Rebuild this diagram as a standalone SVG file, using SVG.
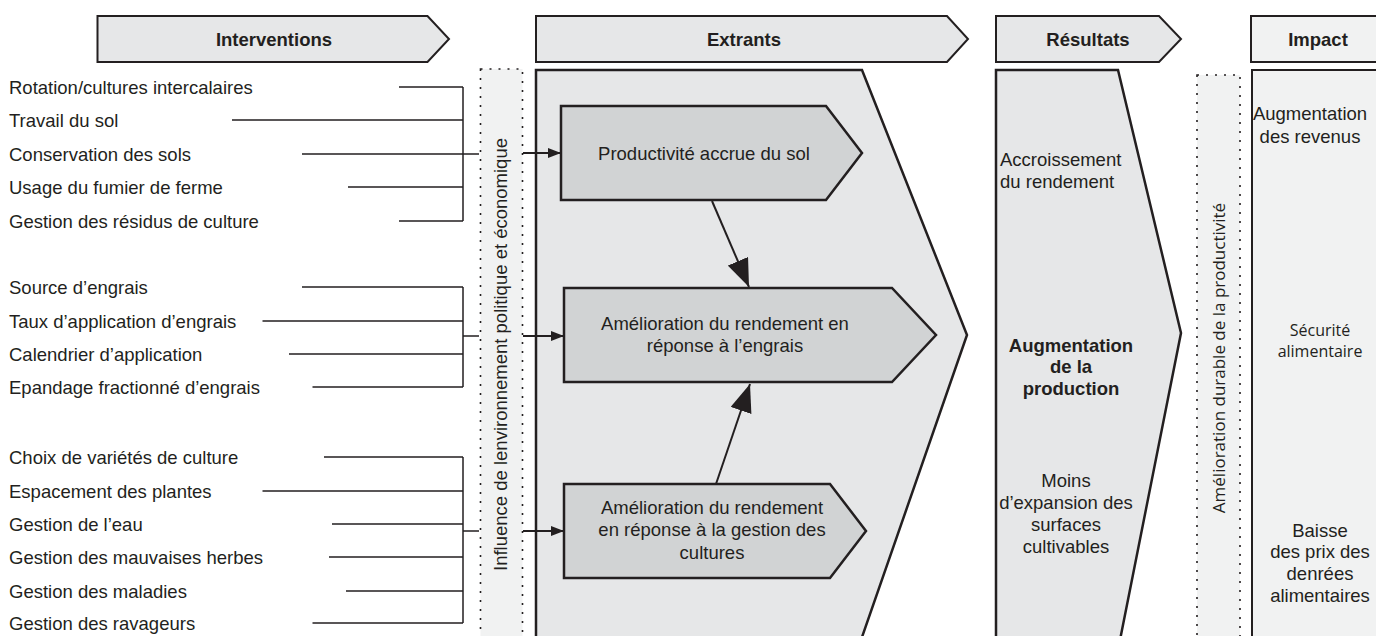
<svg xmlns="http://www.w3.org/2000/svg" width="1376" height="636" viewBox="0 0 1376 636">
<style>
.t{font-family:"Liberation Sans",Arial,sans-serif;font-size:18.5px;fill:#231f20}
.c{text-anchor:middle}
.b{font-weight:bold}
.m{font-family:"Open Sans","Noto Sans",sans-serif;font-size:16px;fill:#231f20}
.m2{font-family:"Open Sans","Noto Sans",sans-serif;font-size:17px;fill:#231f20}
.hdr{fill:#e6e7e8;stroke:#231f20;stroke-width:2}
.hdrl{fill:#f1f2f2;stroke:#231f20;stroke-width:2}
.ln{stroke:#231f20;stroke-width:1.5;fill:none}
.dot{fill:#f1f2f2;stroke:#231f20;stroke-width:1.6;stroke-dasharray:2 7}
.big{fill:#e6e7e8;stroke:#231f20;stroke-width:2.5}
.light{fill:#f1f2f2;stroke:#231f20;stroke-width:2}
.box{fill:#d1d3d4;stroke:#231f20;stroke-width:2.5}
.arr{stroke:#231f20;stroke-width:2;fill:none}
</style>
<defs>
<marker id="ah" markerUnits="userSpaceOnUse" markerWidth="14" markerHeight="10" refX="13" refY="5" orient="auto"><path d="M0,0 L13,5 L0,10 Z" fill="#231f20"/></marker>
<marker id="AH" markerUnits="userSpaceOnUse" markerWidth="29" markerHeight="22" refX="28" refY="11" orient="auto"><path d="M0,0 L28,11 L0,22 Z" fill="#231f20"/></marker>
</defs>

<g id="headers">
<g id="h-interventions"><polygon class="hdr" points="97.5,16 427.5,16 449,39 427.5,62 97.5,62"/><text class="t b c" x="274" y="45.5">Interventions</text></g>
<g id="h-extrants"><polygon class="hdr" points="536,16 947,16 968,39 947,62 536,62"/><text class="t b c" x="744" y="45.5">Extrants</text></g>
<g id="h-resultats"><polygon class="hdr" points="996,16 1159,16 1181,39 1159,62 996,62"/><text class="t b c" x="1088" y="45.5">Résultats</text></g>
<g id="h-impact"><rect class="hdrl" x="1251" y="16" width="140" height="46"/><text class="t b c" x="1318" y="45.5">Impact</text></g>
</g>

<g id="influence"><rect class="dot" x="480.5" y="69" width="42" height="580"/><text class="t c" transform="translate(507,354.5) rotate(-90)">Influence de lenvironnement politique et économique</text></g>

<g id="extrants-body"><polygon class="big" points="536,70 862,70 967,335 861,640 536,640"/></g>

<g id="resultats-body"><polygon class="big" points="996,70 1118,70 1181,333 1120,640 996,640"/>
<text class="t" x="1000" y="165.5">Accroissement</text>
<text class="t" x="1000" y="188">du rendement</text>
<text class="t b c" x="1071" y="351.5">Augmentation</text>
<text class="t b c" x="1071" y="373">de la</text>
<text class="t b c" x="1071" y="395">production</text>
<text class="t c" x="1066" y="486.5">Moins</text>
<text class="t c" x="1066" y="509">d’expansion des</text>
<text class="t c" x="1066" y="530.5">surfaces</text>
<text class="t c" x="1066" y="552.5">cultivables</text>
</g>

<g id="durable"><rect class="dot" x="1197" y="75" width="43" height="570"/><text class="m2 c" transform="translate(1225,358) rotate(-90)">Amélioration durable de la productivité</text></g>

<g id="impact-body"><rect class="light" x="1252" y="70" width="140" height="580"/>
<text class="t c" x="1310" y="119.5">Augmentation</text>
<text class="t c" x="1310" y="142.5">des revenus</text>
<text class="m c" x="1320" y="335.5">Sécurité</text>
<text class="m c" x="1320" y="357">alimentaire</text>
<text class="t c" x="1320" y="536.5">Baisse</text>
<text class="t c" x="1320" y="558">des prix des</text>
<text class="t c" x="1320" y="580">denrées</text>
<text class="t c" x="1320" y="602">alimentaires</text>
</g>

<g id="box-sol"><polygon class="box" points="561,106 826,106 862,153 826,200 561,200"/><text class="t c" x="704" y="159.5">Productivité accrue du sol</text></g>
<g id="box-engrais"><polygon class="box" points="564,288 892,288 936,335 892,382 564,382"/><text class="t c" x="725" y="329.5">Amélioration du rendement en</text><text class="t c" x="725" y="351.5">réponse à l’engrais</text></g>
<g id="box-gestion"><polygon class="box" points="564,484 830,484 866,531 830,578 564,578"/><text class="t c" x="712" y="513.5">Amélioration du rendement</text><text class="t c" x="712" y="536">en réponse à la gestion des</text><text class="t c" x="712" y="558.5">cultures</text></g>

<g id="list1">
<text class="t" x="9" y="93.5">Rotation/cultures intercalaires</text>
<text class="t" x="9" y="126.5">Travail du sol</text>
<text class="t" x="9" y="160.5">Conservation des sols</text>
<text class="t" x="9" y="193.5">Usage du fumier de ferme</text>
<text class="t" x="9" y="227.5">Gestion des résidus de culture</text>
</g>
<g id="list2">
<text class="t" x="9" y="293.5">Source d’engrais</text>
<text class="t" x="9" y="327.5">Taux d’application d’engrais</text>
<text class="t" x="9" y="360.5">Calendrier d’application</text>
<text class="t" x="9" y="393.5">Epandage fractionné d’engrais</text>
</g>
<g id="list3">
<text class="t" x="9" y="463.5">Choix de variétés de culture</text>
<text class="t" x="9" y="497.5">Espacement des plantes</text>
<text class="t" x="9" y="530.5">Gestion de l’eau</text>
<text class="t" x="9" y="563.5">Gestion des mauvaises herbes</text>
<text class="t" x="9" y="597.5">Gestion des maladies</text>
<text class="t" x="9" y="629.5">Gestion des ravageurs</text>
</g>

<g id="connectors">
<path class="ln" d="M399,87H463M232,120H463M302,154H479M348,187H463M399,221H463M463,87V221"/>
<path class="ln" d="M302,287H463M262.5,321H463M289,354H463M312.5,387H463M463,287V387M463,336H479"/>
<path class="ln" d="M324,457H463M262.5,491H463M332,524H463M329,557H463M346,591H463M312.5,623H463M463,457V623M463,531H479"/>
<line class="arr" x1="523" y1="153" x2="561" y2="153" marker-end="url(#ah)"/>
<line class="arr" x1="523" y1="336" x2="564" y2="336" marker-end="url(#ah)"/>
<line class="arr" x1="523" y1="531" x2="564" y2="531" marker-end="url(#ah)"/>
<line class="arr" x1="712" y1="201" x2="749" y2="287" marker-end="url(#AH)"/>
<line class="arr" x1="716" y1="484" x2="750" y2="384" marker-end="url(#AH)"/>
</g>
</svg>
